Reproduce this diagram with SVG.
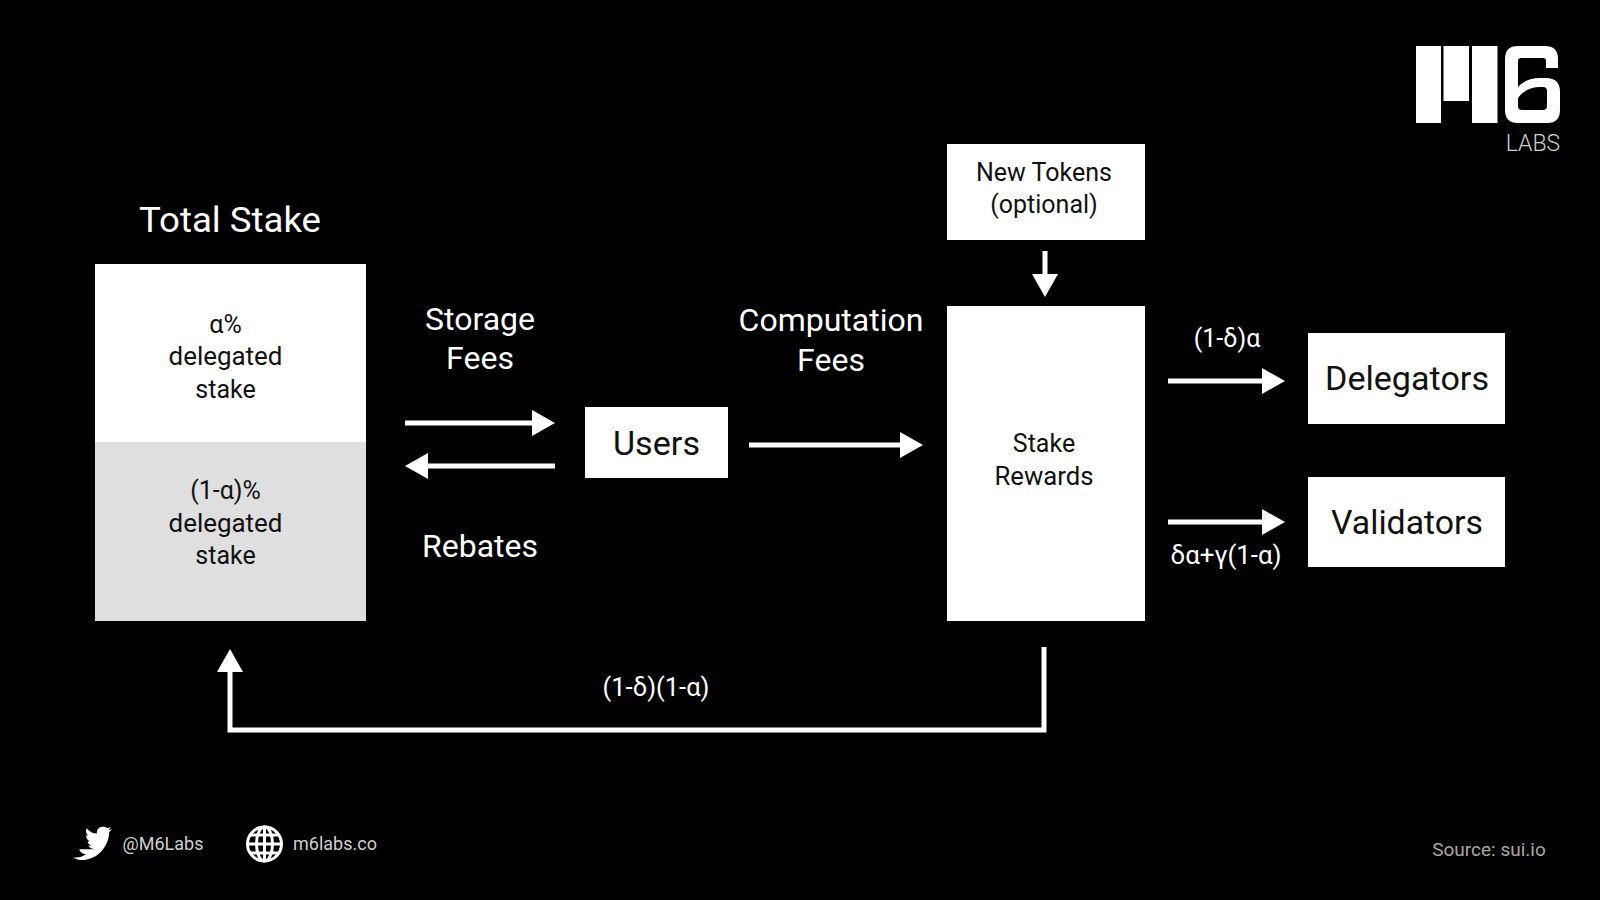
<svg xmlns="http://www.w3.org/2000/svg" width="1600" height="900" viewBox="0 0 1600 900">
<defs>
<marker id="ah" markerUnits="userSpaceOnUse" markerWidth="24" markerHeight="28" refX="18" refY="14" orient="auto"><path d="M0 1L23 14L0 27Z" fill="#fff"/></marker>
</defs>
<style>
text{font-family:"Roboto","Liberation Sans",sans-serif;text-anchor:middle}
.w{fill:#fff}.k{fill:#111}
.l{font-size:32px}.m{font-size:25px}.s{font-size:25px}.b{font-size:33px}
.c{fill:none;stroke:#fff;stroke-width:5;marker-end:url(#ah)}
.f{font-size:18px;fill:#d0d0d0}
</style>
<rect width="1600" height="900" fill="#000"/>
<g id="logo">
<path class="w" d="M1416 46H1441V123H1416ZM1443.500 46H1469V101H1443.500ZM1472 46H1497.500V123H1472Z"/>
<path class="w" fill-rule="evenodd" d="M1518 46H1545Q1558 46 1558 59V68H1546V61Q1546 58 1543 58H1521Q1518 58 1518 61V87Q1526 78 1540 78H1546Q1560 78 1560 92V110Q1560 123 1547 123H1518Q1505 123 1505 110V59Q1505 46 1518 46ZM1518 98Q1526 87 1540 87H1543Q1547 87 1547 91V106Q1547 110 1543 110H1522Q1518 110 1518 106Z"/>
<text x="1533" y="151" font-size="23" fill="#cfcfcf" style="font-weight:300">LABS</text>
</g>
<g id="total-stake">
<text class="w" font-size="35" x="230" y="232" textLength="182" lengthAdjust="spacingAndGlyphs">Total Stake</text>
<rect x="95" y="264" width="271" height="178" fill="#fff"/>
<rect x="95" y="442" width="271" height="179" fill="#dfdfdf"/>
<text class="k m" x="225.500" y="333">α%</text>
<text class="k m" x="225.500" y="365" textLength="114" lengthAdjust="spacingAndGlyphs">delegated</text>
<text class="k m" x="225.500" y="398">stake</text>
<text class="k m" x="225.500" y="499">(1-α)%</text>
<text class="k m" x="225.500" y="532" textLength="114" lengthAdjust="spacingAndGlyphs">delegated</text>
<text class="k m" x="225.500" y="564">stake</text>
</g>
<g id="users"><rect x="585" y="407" width="143" height="71" fill="#fff"/><text class="k b" x="656.500" y="455" textLength="87" lengthAdjust="spacingAndGlyphs">Users</text></g>
<g id="new-tokens"><rect x="947" y="144" width="198" height="96" fill="#fff"/>
<text class="k m" x="1044" y="181">New Tokens</text><text class="k m" x="1044" y="213">(optional)</text></g>
<g id="stake-rewards"><rect x="947" y="306" width="198" height="315" fill="#fff"/>
<text class="k m" x="1044" y="452">Stake</text><text class="k m" x="1044" y="485" textLength="99" lengthAdjust="spacingAndGlyphs">Rewards</text></g>
<g id="delegators"><rect x="1308" y="333" width="197" height="91" fill="#fff"/><text class="k b" x="1407" y="390" textLength="164" lengthAdjust="spacingAndGlyphs">Delegators</text></g>
<g id="validators"><rect x="1308" y="477" width="197" height="90" fill="#fff"/><text class="k b" x="1407" y="534" textLength="152" lengthAdjust="spacingAndGlyphs">Validators</text></g>
<g id="connectors">
<path class="c" d="M405 423H550"/>
<path class="c" d="M555 466H410"/>
<path class="c" d="M749 445H918"/>
<path class="c" d="M1045 251V292"/>
<path class="c" d="M1168 381H1280"/>
<path class="c" d="M1168 522H1280"/>
<path class="c" d="M1044 647V730H230V654"/>
</g>
<g id="labels">
<text class="w l" x="480" y="330">Storage</text><text class="w l" x="480" y="369">Fees</text>
<text class="w l" x="480" y="557">Rebates</text>
<text class="w l" x="831" y="331">Computation</text><text class="w l" x="831" y="371">Fees</text>
<text class="w s" x="1227" y="347">(1-δ)α</text>
<text class="w s" x="1226" y="564" textLength="111" lengthAdjust="spacingAndGlyphs">δα+γ(1-α)</text>
<text class="w s" x="656" y="696" textLength="107" lengthAdjust="spacingAndGlyphs">(1-δ)(1-α)</text>
</g>
<g id="footer">
<path class="w" transform="translate(23.500,285.500) scale(0.68)" d="M110 829C104 830 98 828 95 824C97 824 98 824 100 824C97 823 95 821 94 817C95 818 96 818 97 817C94 816 92 812 92 808C93 809 94 809 95 809C92 806 91 802 93 798C97 803 102 806 108 806C107 800 112 795 117 796C120 796 122 797 123 798C125 798 127 797 128 796C128 798 126 800 125 801C127 801 128 800 130 799C129 801 127 803 126 804C126 818 116 838 97 843C88 846 80 845 73 841C80 842 87 840 92 836C87 836 83 833 82 829Z"/>
<text class="f" x="163" y="850">@M6Labs</text>
<g fill="none" stroke="#fff" stroke-width="3"><circle cx="264.500" cy="844" r="17"/><ellipse cx="264.500" cy="844" rx="8" ry="17"/><path d="M264.500 827V861M247.500 844H281.500M250 835H279M250 853H279"/></g>
<text class="f" x="335" y="850">m6labs.co</text>
<text x="1489" y="856" font-size="19" fill="#a8a8a8">Source: sui.io</text>
</g>
</svg>
